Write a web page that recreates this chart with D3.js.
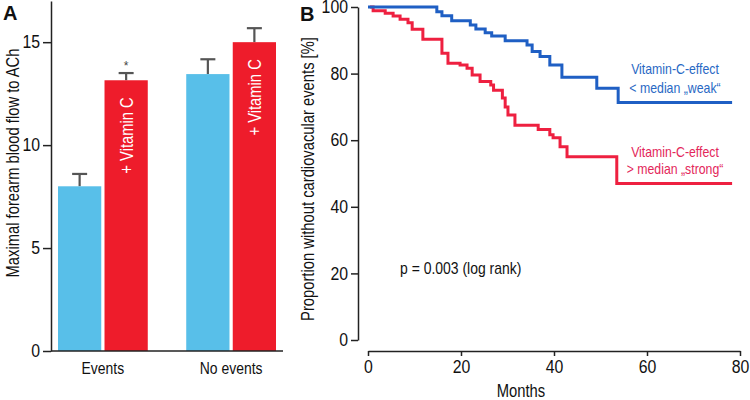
<!DOCTYPE html>
<html>
<head>
<meta charset="utf-8">
<script src="https://cdn.jsdelivr.net/npm/d3@7"></script>
<style>
  body { margin: 0; background: #fff; }
  svg { display: block; }
  text { font-family: "Liberation Sans", Arial, sans-serif; }
</style>
</head>
<body>
<svg id="chart" width="750" height="400"></svg>
<script>
// ---- Panel A data ----
const groups = ["Events", "No events"];
const baselineFlow = [8.0, 13.45];
const baselineErr = [0.6, 0.72];
const vitaminCFlow = [13.15, 15.0];
const vitaminCErr = [0.35, 0.68];
const yTicksA = [0, 5, 10, 15];

// ---- Panel B data (Kaplan-Meier steps: month, % event-free) ----
const weakMonths = [0, 14.8, 15.9, 18.0, 22.0, 23.2, 25.2, 26.6, 29.5, 34.2, 35.3, 37.0, 39.1, 41.7, 49.2, 53.8, 78.3];
const weakSurv   = [100, 98.6, 97.4, 95.9, 94.6, 93.4, 92.3, 91.3, 89.9, 88.6, 86.6, 85.1, 82.6, 78.9, 75.6, 71.3, 71.3];
const strongMonths = [0.4, 1.1, 3.7, 5.4, 6.9, 8.6, 9.5, 11.8, 15.9, 17.2, 19.8, 21.3, 22.4, 24.1, 26.4, 27.0, 28.9, 29.5, 30.1, 31.6, 36.6, 39.1, 39.8, 41.3, 42.8, 53.5, 78.3];
const strongSurv   = [100, 98.9, 98.1, 97.3, 96.3, 95.3, 93.3, 90.3, 86.1, 83.1, 82.6, 81.6, 79.6, 77.6, 76.6, 75.0, 72.7, 70.0, 67.6, 64.5, 63.2, 61.6, 60.7, 58.0, 55.0, 47.0, 47.0];
const xTicksB = [0, 20, 40, 60, 80];
const yTicksB = [0, 20, 40, 60, 80, 100];

const svg = d3.select("#chart");
const fontSize = 17;
const tickFont = 18;

// ================= Panel A =================
const gA = svg.append("g");
const yA = d3.scaleLinear().domain([0, 17]).range([351, 1]);
const xA = d3.scaleBand().domain(groups).range([58, 276]).paddingInner(0.3).paddingOuter(0.0);
const xSub = d3.scaleBand().domain(["base", "vitc"]).range([0, xA.bandwidth()]).paddingInner(0.07);

const barData = [];
groups.forEach((g, i) => {
  barData.push({ g, k: "base", v: baselineFlow[i], e: baselineErr[i] });
  barData.push({ g, k: "vitc", v: vitaminCFlow[i], e: vitaminCErr[i] });
});

const eb = gA.selectAll(".eb").data(barData).join("g");
eb.append("line")
  .attr("x1", d => xA(d.g) + xSub(d.k) + xSub.bandwidth() / 2)
  .attr("x2", d => xA(d.g) + xSub(d.k) + xSub.bandwidth() / 2)
  .attr("y1", d => yA(d.v)).attr("y2", d => yA(d.v + d.e))
  .attr("stroke", "#555").attr("stroke-width", 2.2);
eb.append("line")
  .attr("x1", d => xA(d.g) + xSub(d.k) + xSub.bandwidth() / 2 - 7.5)
  .attr("x2", d => xA(d.g) + xSub(d.k) + xSub.bandwidth() / 2 + 7.5)
  .attr("y1", d => yA(d.v + d.e)).attr("y2", d => yA(d.v + d.e))
  .attr("stroke", "#555").attr("stroke-width", 2.2);

gA.selectAll(".bar").data(barData).join("rect")
  .attr("x", d => xA(d.g) + xSub(d.k))
  .attr("width", xSub.bandwidth())
  .attr("y", d => yA(d.v))
  .attr("height", d => yA(0) - yA(d.v))
  .attr("fill", d => d.k === "base" ? "#58bfe9" : "#ee1c2b");

gA.selectAll(".vl").data(barData.filter(d => d.k === "vitc")).join("text")
  .attr("class", "cn")
  .attr("transform", d => `translate(${xA(d.g) + xSub("vitc") + xSub.bandwidth() / 2 + 1},${yA(d.v) + 17}) rotate(-90)`)
  .attr("text-anchor", "end")
  .attr("dominant-baseline", "central")
  .attr("fill", "#fff")
  .attr("font-size", 18)
  .text("+ Vitamin C");

gA.append("text")
  .attr("x", xA("Events") + xSub("vitc") + xSub.bandwidth() / 2)
  .attr("y", yA(vitaminCFlow[0] + vitaminCErr[0]) - 3)
  .attr("text-anchor", "middle").attr("font-size", 12).attr("fill", "#444")
  .text("*");

const axYA = gA.append("g").attr("transform", "translate(51,0)")
  .call(d3.axisLeft(yA).tickValues(yTicksA).tickSize(8).tickSizeOuter(0).tickPadding(3));
axYA.selectAll("text").attr("class", "cnt").attr("font-size", tickFont).attr("fill", "#111");
axYA.selectAll("line,path").attr("stroke", "#222").attr("stroke-width", 1.5);

gA.append("line").attr("x1", 51).attr("x2", 283).attr("y1", yA(0)).attr("y2", yA(0))
  .attr("stroke", "#222").attr("stroke-width", 1.5);

gA.selectAll(".xl").data(groups).join("text")
  .attr("class", "cn")
  .attr("x", d => xA(d) + xA.bandwidth() / 2)
  .attr("y", 374)
  .attr("text-anchor", "middle").attr("font-size", fontSize).attr("fill", "#111")
  .text(d => d);

gA.append("text")
  .attr("class", "cn")
  .attr("transform", "translate(19,163) rotate(-90)")
  .attr("text-anchor", "middle").attr("font-size", 18).attr("fill", "#111")
  .text("Maximal forearm blood flow to ACh");

gA.append("text").attr("x", 3).attr("y", 20)
  .attr("font-weight", "bold")
  .attr("font-size", 20).attr("fill", "#111").text("A");

// ================= Panel B =================
const gB = svg.append("g");
const xB = d3.scaleLinear().domain([0, 80]).range([368, 740]);
const yB = d3.scaleLinear().domain([0, 100]).range([340, 7]);

const line = d3.line().x(d => xB(d[0])).y(d => yB(d[1])).curve(d3.curveStepAfter);
const weak = weakMonths.map((m, i) => [m, weakSurv[i]]);
const strong = strongMonths.map((m, i) => [m, strongSurv[i]]);

gB.append("path").datum(strong).attr("d", line)
  .attr("fill", "none").attr("stroke", "#ee2040").attr("stroke-width", 3);
gB.append("path").datum(weak).attr("d", line)
  .attr("fill", "none").attr("stroke", "#1f5fc4").attr("stroke-width", 3);

const axYB = gB.append("g").attr("transform", "translate(358,0)")
  .call(d3.axisLeft(yB).tickValues(yTicksB).tickSize(7).tickSizeOuter(0).tickPadding(3));
axYB.selectAll("text").attr("class", "cnt").attr("font-size", tickFont).attr("fill", "#111");
axYB.selectAll("line,path").attr("stroke", "#222").attr("stroke-width", 1.5);

const axXB = gB.append("g").attr("transform", "translate(0,351)")
  .call(d3.axisBottom(xB).tickValues(xTicksB).tickSize(5).tickSizeOuter(0).tickPadding(4));
axXB.selectAll("text").attr("class", "cnt").attr("font-size", tickFont).attr("fill", "#111");
axXB.selectAll("line,path").attr("stroke", "#222").attr("stroke-width", 1.5);

gB.append("text").attr("class", "cn").attr("x", 521).attr("y", 397)
  .attr("text-anchor", "middle").attr("font-size", 18).attr("fill", "#111").text("Months");

gB.append("text")
  .attr("class", "cn")
  .attr("transform", "translate(314,179) rotate(-90)")
  .attr("text-anchor", "middle").attr("font-size", 18).attr("fill", "#111")
  .text("Proportion without cardiovacular events [%]");

gB.append("text").attr("class", "cn").attr("x", 400).attr("y", 274)
  .attr("font-size", fontSize).attr("fill", "#111").text("p = 0.003 (log rank)");

const legendWeak = ["Vitamin-C-effect", "< median \u201Eweak\u201C"];
const legendStrong = ["Vitamin-C-effect", "> median \u201Estrong\u201C"];
gB.selectAll(".lw").data(legendWeak).join("text")
  .attr("class", "cn")
  .attr("x", 675).attr("y", (d, i) => 74 + i * 18.5)
  .attr("text-anchor", "middle").attr("font-size", 15).attr("fill", "#2868c4").text(d => d);
gB.selectAll(".ls").data(legendStrong).join("text")
  .attr("class", "cn")
  .attr("x", 675).attr("y", (d, i) => 157 + i * 16.5)
  .attr("text-anchor", "middle").attr("font-size", 15).attr("fill", "#e3265a").text(d => d);

gB.append("text").attr("x", 300).attr("y", 21)
  .attr("font-weight", "bold")
  .attr("font-size", 20).attr("fill", "#111").text("B");

// condensed look: compress glyphs horizontally (Helvetica Condensed style)
function condense(sel, f) {
  sel.each(function () {
    const w = this.getComputedTextLength();
    d3.select(this).attr("textLength", (w * f).toFixed(1)).attr("lengthAdjust", "spacingAndGlyphs");
  });
}
condense(svg.selectAll("text.cn"), 0.82);
condense(svg.selectAll("text.cnt"), 0.88);
</script>
</body>
</html>
